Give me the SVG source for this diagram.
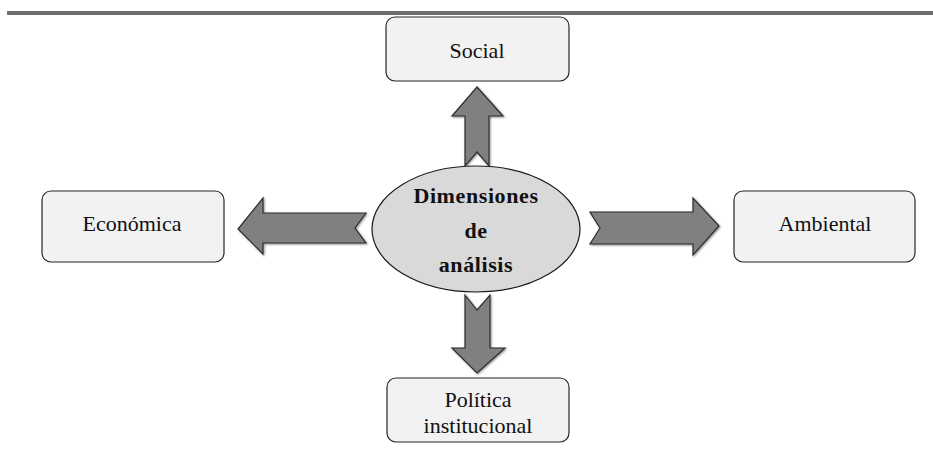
<svg xmlns="http://www.w3.org/2000/svg" width="933" height="451" viewBox="0 0 933 451">
  <style>
    .box { fill: #f2f2f2; stroke: #262626; stroke-width: 1.2; }
    .lbl { font-family: "Liberation Serif", "DejaVu Serif", serif; font-size: 22px; fill: #111; text-anchor: middle; }
    .core { font-family: "Liberation Serif", "DejaVu Serif", serif; font-size: 22px; font-weight: bold; fill: #111; text-anchor: middle; letter-spacing: 0.6px; }
    .arrow { fill: #808080; stroke: #2e2e2e; stroke-width: 1.2; stroke-linejoin: miter; }
  </style>
  <defs>
    <filter id="shade" x="-10%" y="-10%" width="130%" height="130%">
      <feGaussianBlur in="SourceAlpha" stdDeviation="1"/>
      <feOffset dx="1" dy="1" result="off"/>
      <feComponentTransfer><feFuncA type="linear" slope="0.45"/></feComponentTransfer>
      <feMerge><feMergeNode/><feMergeNode in="SourceGraphic"/></feMerge>
    </filter>
  </defs>

  <!-- header rule -->
  <rect x="7" y="11" width="926" height="4" fill="#6e6e6e"/>

  <!-- connectors: block arrows radiating from the centre -->
  <g id="connectors" filter="url(#shade)">
    <!-- up -->
    <path class="arrow" d="M465,166 L465,116 L452,116 L477,87 L503,116 L489,116 L489,166 L477,152 Z"/>
    <!-- left -->
    <path class="arrow" d="M366,213 L263,213 L263,198 L238,229 L263,254 L263,243 L366,243 L355,228 Z"/>
    <!-- right -->
    <path class="arrow" d="M590,212 L693,212 L693,198 L719,226 L693,255 L693,244 L590,244 L600,228 Z"/>
    <!-- down -->
    <path class="arrow" d="M465,295 L477,310 L490,295 L490,348 L505,348 L477,373 L452,348 L465,348 Z"/>
  </g>

  <g id="node-center">
    <ellipse cx="476" cy="229" rx="104" ry="63" fill="#d9d9d9" stroke="#1a1a1a" stroke-width="1.2"/>
    <text class="core" x="476" y="203">Dimensiones</text>
    <text class="core" x="476" y="238">de</text>
    <text class="core" x="476" y="272">análisis</text>
  </g>

  <g id="node-social">
    <rect class="box" x="386" y="17" width="183" height="64" rx="9"/>
    <text class="lbl" x="477" y="58">Social</text>
  </g>

  <g id="node-economica">
    <rect class="box" x="42" y="191" width="182" height="71" rx="9"/>
    <text class="lbl" x="132" y="231">Económica</text>
  </g>

  <g id="node-ambiental">
    <rect class="box" x="734" y="191" width="181" height="71" rx="9"/>
    <text class="lbl" x="825" y="231">Ambiental</text>
  </g>

  <g id="node-politica">
    <rect class="box" x="387" y="378" width="182" height="64" rx="9"/>
    <text class="lbl" x="478" y="407">Política</text>
    <text class="lbl" x="478" y="433">institucional</text>
  </g>
</svg>
